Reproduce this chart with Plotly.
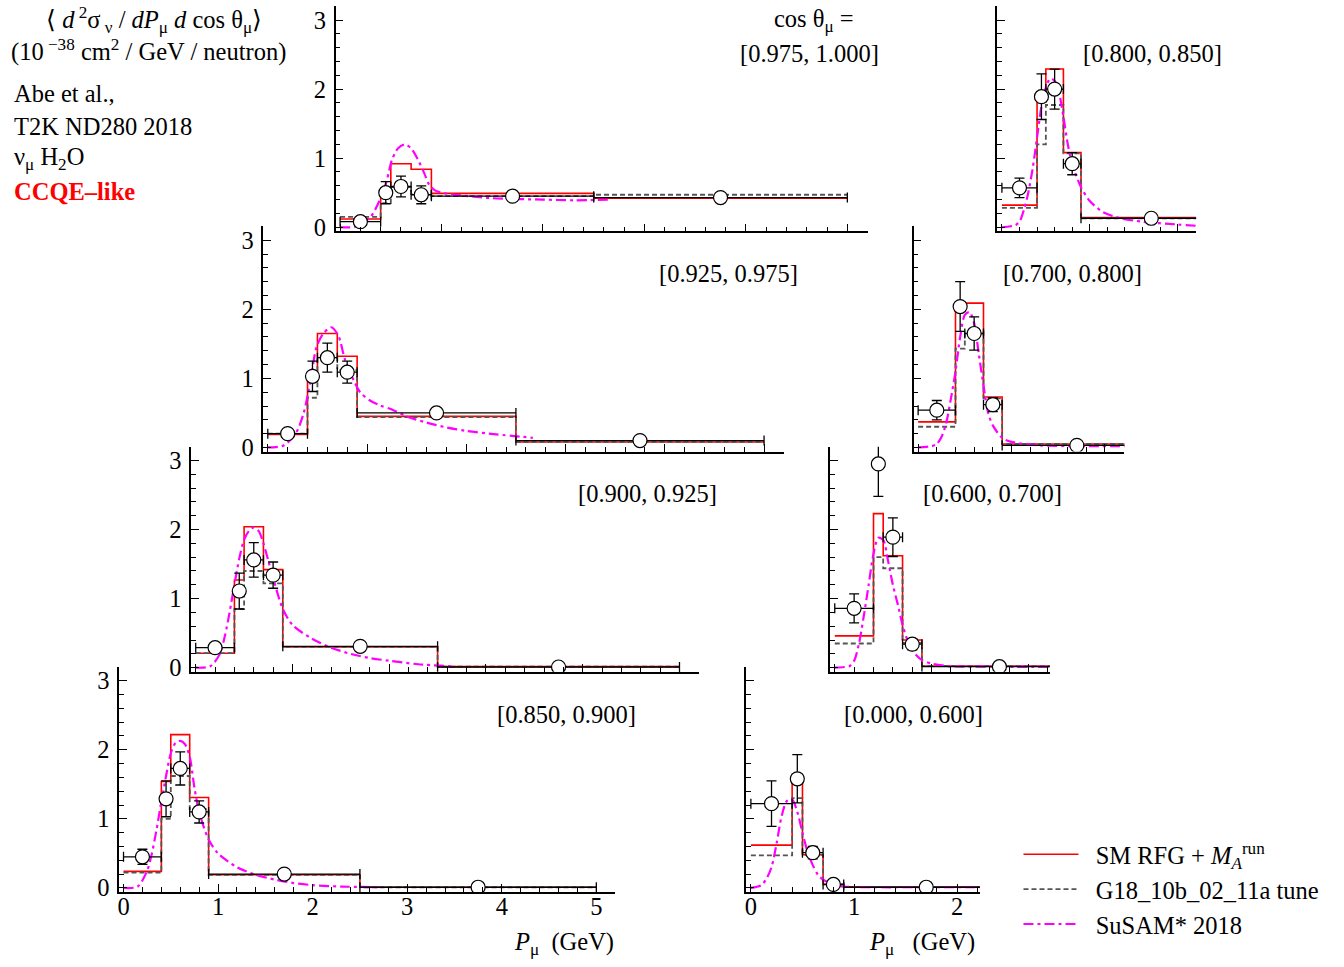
import plotly.graph_objects as go

FONT = "Liberation Serif, Times New Roman, serif"
FS = 24.5
W, H = 1344, 967          # reference pixel frame used for placement
H_FIG = 977               # rendered figure height (compensates capture scaling)

# ---------------- data ----------------
# muon momentum bin edges (GeV)
edges_left = [0.0, 0.4, 0.5, 0.7, 0.9, 2.5, 5.0]
edges_right = [0.0, 0.4, 0.5, 0.7, 0.9, 2.5]
pmu_left = [0.2, 0.45, 0.6, 0.8, 1.7, 3.75]
pmu_right = [0.2, 0.45, 0.6, 0.8, 1.7]

# cos theta_mu = [0.975, 1.000]
red_0975 = [0.12, 0.45, 0.92, 0.84, 0.49, 0.42]
gray_0975 = [0.15, 0.35, 0.58, 0.48, 0.45, 0.47]
data_0975 = [0.08, 0.50, 0.59, 0.47, 0.45, 0.43]
err_0975 = [0.03, 0.16, 0.15, 0.13, 0.03, 0.02]
susam_p_0975 = [0, 0.16, 0.3, 0.39, 0.46, 0.51, 0.57, 0.64, 0.7, 0.76, 0.83, 0.88, 0.94, 1.04, 1.2, 1.5, 2.0, 2.3, 2.65]
susam_y_0975 = [0, 0.01, 0.15, 0.39, 0.68, 0.97, 1.14, 1.2, 1.14, 1.0, 0.78, 0.61, 0.53, 0.49, 0.46, 0.42, 0.40, 0.39, 0.40]

# cos theta_mu = [0.925, 0.975]
red_0925 = [0.19, 0.96, 1.65, 1.32, 0.45, 0.08]
gray_0925 = [0.20, 0.72, 1.30, 1.12, 0.44, 0.08]
data_0925 = [0.20, 1.03, 1.30, 1.09, 0.50, 0.10]
err_0925 = [0.03, 0.22, 0.21, 0.16, 0.02, 0.01]
susam_p_0925 = [0, 0.16, 0.28, 0.36, 0.43, 0.49, 0.56, 0.64, 0.71, 0.78, 0.85, 0.93, 1.03, 1.13, 1.25, 1.4, 1.6, 1.8, 2.0, 2.3, 2.67]
susam_y_0925 = [0, 0.03, 0.2, 0.49, 0.97, 1.45, 1.65, 1.74, 1.62, 1.26, 1.02, 0.8, 0.68, 0.61, 0.55, 0.45, 0.36, 0.29, 0.24, 0.19, 0.14]

# cos theta_mu = [0.900, 0.925]
red_0900 = [0.21, 1.27, 2.04, 1.42, 0.30, 0.015]
gray_0900 = [0.21, 0.85, 1.40, 1.22, 0.30, 0.015]
data_0900 = [0.29, 1.11, 1.56, 1.34, 0.31, 0.01]
err_0900 = [0.05, 0.26, 0.25, 0.19, 0.02, 0.005]
susam_p_0900 = [0, 0.15, 0.25, 0.3, 0.35, 0.4, 0.45, 0.5, 0.55, 0.6, 0.65, 0.7, 0.75, 0.8, 0.9, 1.0, 1.2, 1.4, 1.6, 1.8, 2.0, 2.3, 2.65]
susam_y_0900 = [0, 0.02, 0.2, 0.45, 0.8, 1.2, 1.58, 1.85, 1.98, 2.03, 1.98, 1.8, 1.55, 1.3, 0.85, 0.62, 0.42, 0.29, 0.2, 0.14, 0.1, 0.05, 0.02]

# cos theta_mu = [0.850, 0.900]
red_0850 = [0.24, 1.54, 2.22, 1.31, 0.19, 0.01]
gray_0850 = [0.22, 1.00, 1.62, 1.14, 0.19, 0.01]
data_0850 = [0.45, 1.29, 1.73, 1.10, 0.20, 0.01]
err_0850 = [0.11, 0.26, 0.24, 0.16, 0.02, 0.005]
susam_p_0850 = [0, 0.15, 0.25, 0.3, 0.35, 0.4, 0.45, 0.5, 0.55, 0.6, 0.65, 0.7, 0.75, 0.8, 0.9, 1.0, 1.2, 1.4, 1.6, 1.8, 2.0, 2.3, 2.7]
susam_y_0850 = [0, 0.02, 0.25, 0.5, 0.85, 1.25, 1.62, 1.95, 2.1, 2.13, 2.08, 1.9, 1.45, 1.1, 0.7, 0.5, 0.3, 0.19, 0.12, 0.07, 0.04, 0.02, 0.01]

# cos theta_mu = [0.800, 0.850]
red_0800 = [0.32, 1.81, 2.29, 1.08, 0.14]
gray_0800 = [0.28, 1.20, 1.77, 1.07, 0.13]
data_0800 = [0.57, 1.89, 2.00, 0.92, 0.13]
err_0800 = [0.14, 0.33, 0.29, 0.16, 0.01]
susam_p_0800 = [0, 0.15, 0.2, 0.25, 0.3, 0.35, 0.4, 0.45, 0.5, 0.55, 0.6, 0.65, 0.7, 0.75, 0.8, 0.9, 1.0, 1.15, 1.35, 1.6, 2.0, 2.22]
susam_y_0800 = [0, 0.03, 0.08, 0.25, 0.5, 0.85, 1.3, 1.75, 2.02, 2.15, 2.12, 1.95, 1.6, 1.2, 0.92, 0.58, 0.38, 0.22, 0.13, 0.08, 0.04, 0.02]

# cos theta_mu = [0.700, 0.800]
red_0700 = [0.37, 2.09, 2.09, 0.73, 0.05]
gray_0700 = [0.30, 1.43, 1.68, 0.71, 0.05]
data_0700 = [0.54, 2.04, 1.65, 0.62, 0.03]
err_0700 = [0.14, 0.36, 0.24, 0.10, 0.005]
susam_p_0700 = [0, 0.15, 0.2, 0.25, 0.3, 0.35, 0.4, 0.45, 0.5, 0.55, 0.6, 0.65, 0.7, 0.75, 0.8, 0.9, 1.0, 1.3, 1.7, 2.22]
susam_y_0700 = [0, 0.02, 0.05, 0.15, 0.35, 0.7, 1.1, 1.6, 1.92, 1.96, 1.8, 1.35, 0.9, 0.5, 0.32, 0.14, 0.08, 0.03, 0.02, 0.02]

# cos theta_mu = [0.600, 0.700]
red_0600 = [0.46, 2.23, 1.62, 0.40, 0.025]
gray_0600 = [0.35, 1.60, 1.44, 0.36, 0.025]
data_0600 = [0.86, 2.95, 1.89, 0.34, 0.015]
err_0600 = [0.21, 0.47, 0.28, 0.08, 0.005]
susam_p_0600 = [0, 0.1, 0.15, 0.2, 0.25, 0.3, 0.35, 0.4, 0.45, 0.5, 0.55, 0.6, 0.65, 0.7, 0.75, 0.8, 0.9, 1.0, 1.2, 1.6, 2.22]
susam_y_0600 = [0, 0.01, 0.02, 0.1, 0.35, 0.75, 1.2, 1.65, 1.88, 1.85, 1.55, 1.2, 0.92, 0.62, 0.4, 0.25, 0.11, 0.06, 0.02, 0.015, 0.01]

# cos theta_mu = [0.000, 0.600]
red_0000 = [0.62, 1.51, 0.48, 0.05, 0.015]
gray_0000 = [0.47, 1.30, 0.48, 0.05, 0.015]
data_0000 = [1.22, 1.58, 0.51, 0.05, 0.01]
err_0000 = [0.33, 0.35, 0.09, 0.02, 0.005]
susam_p_0000 = [0, 0.1, 0.15, 0.2, 0.25, 0.3, 0.35, 0.4, 0.45, 0.5, 0.55, 0.6, 0.65, 0.7, 0.8, 0.9, 1.2, 1.6, 2.22]
susam_y_0000 = [0, 0.04, 0.13, 0.3, 0.65, 1.05, 1.26, 1.28, 1.1, 0.8, 0.52, 0.33, 0.19, 0.12, 0.05, 0.02, 0.01, 0.01, 0.01]

labels = {
    "0975": "[0.975, 1.000]", "0925": "[0.925, 0.975]", "0900": "[0.900, 0.925]",
    "0850": "[0.850, 0.900]", "0800": "[0.800, 0.850]", "0700": "[0.700, 0.800]",
    "0600": "[0.600, 0.700]", "0000": "[0.000, 0.600]",
}

panels = [
    ("0850", edges_left, pmu_left, red_0850, gray_0850, data_0850, err_0850, susam_p_0850, susam_y_0850),
    ("0900", edges_left, pmu_left, red_0900, gray_0900, data_0900, err_0900, susam_p_0900, susam_y_0900),
    ("0925", edges_left, pmu_left, red_0925, gray_0925, data_0925, err_0925, susam_p_0925, susam_y_0925),
    ("0975", edges_left, pmu_left, red_0975, gray_0975, data_0975, err_0975, susam_p_0975, susam_y_0975),
    ("0000", edges_right, pmu_right, red_0000, gray_0000, data_0000, err_0000, susam_p_0000, susam_y_0000),
    ("0600", edges_right, pmu_right, red_0600, gray_0600, data_0600, err_0600, susam_p_0600, susam_y_0600),
    ("0700", edges_right, pmu_right, red_0700, gray_0700, data_0700, err_0700, susam_p_0700, susam_y_0700),
    ("0800", edges_right, pmu_right, red_0800, gray_0800, data_0800, err_0800, susam_p_0800, susam_y_0800),
]

# ---------------- layout geometry (reference pixels) ----------------
# key: (x pixel of p=0, px per GeV, y pixel of zero, x max, bottom-row?, left-column?, label right px, label y px)
geom = {
    "0850": (121.7, 94.7, 887, 5.2, True, True, 637, 714),
    "0900": (194.0, 96.9, 667, 5.2, False, True, 718, 493),
    "0925": (266.2, 99.4, 447, 5.2, False, True, 799, 273),
    "0975": (338.6, 101.6, 227, 5.2, False, True, 880, 53),
    "0000": (750.0, 103.3, 887, 2.22, True, False, 984, 714),
    "0600": (834.0, 97.0, 667, 2.22, False, False, 1064, 493),
    "0700": (917.5, 93.5, 447, 2.21, False, False, 1144, 273),
    "0800": (1001.4, 88.0, 227, 2.21, False, False, 1224, 53),
}
YPX = 69.0
YMIN, YMAX = -0.06, 3.2

RED = "#ff0000"
GRAY = "#555555"
MAG = "#ff00ff"
NB = "\u00a0\u00a0"

fig = go.Figure()
annotations = []
layout_axes = {}

for i, (key, edges, pmu, red, gray, dat, err, sp, sy) in enumerate(panels):
    n = i + 1
    xa = "x" if n == 1 else f"x{n}"
    ya = "y" if n == 1 else f"y{n}"
    first = n == 1
    x0, k, z, xmax, bottom, left, lab_r, lab_y = geom[key]
    xmin = -4.5 / k
    dom_x = [(x0 + xmin * k) / W, (x0 + xmax * k) / W]
    dom_y = [(H - (z - YMIN * YPX)) / H, (H - (z - YMAX * YPX)) / H]

    halfw = [(edges[j + 1] - edges[j]) / 2 for j in range(len(edges) - 1)]

    fig.add_trace(go.Scatter(
        x=edges, y=list(red) + [red[-1]], mode="lines", line=dict(color=RED, width=1.6, shape="hv"),
        xaxis=xa, yaxis=ya, name=NB + "SM RFG + <i>M</i><sub><i>A</i></sub><sup>run</sup>",
        showlegend=first, legendrank=1, hoverinfo="skip"))
    fig.add_trace(go.Scatter(
        x=edges, y=list(gray) + [gray[-1]], mode="lines",
        line=dict(color=GRAY, width=1.8, shape="hv", dash="5px,3px"),
        xaxis=xa, yaxis=ya, name=NB + "G18_10b_02_11a tune",
        showlegend=first, legendrank=2, hoverinfo="skip"))
    fig.add_trace(go.Scatter(
        x=sp, y=sy, mode="lines",
        line=dict(color=MAG, width=2.2, shape="spline", smoothing=0.8, dash="10px,4px,3px,4px"),
        xaxis=xa, yaxis=ya, name=NB + "SuSAM* 2018",
        showlegend=first, legendrank=3, hoverinfo="skip"))
    fig.add_trace(go.Scatter(
        x=pmu, y=dat, mode="markers",
        marker=dict(symbol="circle", size=14, color="white", line=dict(color="black", width=1.2)),
        error_y=dict(type="data", array=err, color="black", thickness=1.3, width=5),
        error_x=dict(type="data", array=halfw, color="black", thickness=1.3, width=5),
        xaxis=xa, yaxis=ya, showlegend=False, hoverinfo="skip"))

    axis_common = dict(
        showline=True, linecolor="black", linewidth=1.5, showgrid=False, zeroline=False,
        ticks="inside", ticklen=8, tickwidth=1.3, tickcolor="black",
        tickfont=dict(family=FONT, size=FS, color="black"),
    )
    layout_axes["xaxis" if n == 1 else f"xaxis{n}"] = dict(
        axis_common, domain=dom_x, range=[xmin, xmax], anchor=ya, tick0=0, dtick=1,
        showticklabels=bottom, ticklabelstandoff=-8,
        minor=dict(ticks="inside", ticklen=5, tickwidth=1.2, tickcolor="black", dtick=0.2, tick0=0),
    )
    layout_axes["yaxis" if n == 1 else f"yaxis{n}"] = dict(
        axis_common, domain=dom_y, range=[YMIN, YMAX], anchor=xa, tick0=0, dtick=1,
        showticklabels=left, ticklabelstandoff=3,
        minor=dict(ticks="inside", ticklen=5, tickwidth=1.2, tickcolor="black", dtick=0.2, tick0=0),
    )

    annotations.append(dict(
        text=labels[key], xref="paper", yref="paper", x=lab_r / W, y=1 - lab_y / H,
        xanchor="right", yanchor="middle", showarrow=False,
        font=dict(family=FONT, size=FS, color="black")))

# extra text
def txt(s, xpx, ypx, anchor="left", color="black", size=FS):
    annotations.append(dict(
        text=s, xref="paper", yref="paper", x=xpx / W, y=1 - ypx / H,
        xanchor=anchor, yanchor="middle", showarrow=False,
        font=dict(family=FONT, size=size, color=color)))

txt("cos θ<sub>μ</sub> =", 813, 20, "center")
txt("⟨ <i>d</i><sup> 2</sup>σ<sub> ν</sub> / <i>dP</i><sub>μ</sub> <i>d</i> cos θ<sub>μ</sub>⟩", 152, 20, "center")
txt("(10<sup> −38</sup> cm<sup>2</sup> / GeV / neutron)", 147, 50, "center")
txt("Abe et al.,", 10, 93)
txt("T2K ND280 2018", 10, 126)
txt("ν<sub>μ</sub> H<sub>2</sub>O", 10, 158)
txt("<b>CCQE–like</b>", 10, 191, color="#ff0000")
txt("<i>P</i><sub>μ</sub>  (GeV)", 511, 943)
txt("<i>P</i><sub>μ</sub>   (GeV)", 866, 943)

fig.update_layout(
    width=W, height=H_FIG,
    margin=dict(l=0, r=0, t=0, b=0),
    paper_bgcolor="white", plot_bgcolor="rgba(0,0,0,0)",
    font=dict(family=FONT, size=FS, color="black"),
    annotations=annotations,
    legend=dict(
        x=1018 / W, y=1 - 831 / H, xanchor="left", yanchor="top",
        bgcolor="rgba(0,0,0,0)", font=dict(family=FONT, size=FS, color="black"),
        itemwidth=55, tracegroupgap=0, traceorder="normal",
    ),
    **layout_axes,
)

fig.write_html(
    "out.html",
    config={"displayModeBar": False},
    post_script="document.body.style.margin='0px';document.body.style.overflow='hidden';",
)
